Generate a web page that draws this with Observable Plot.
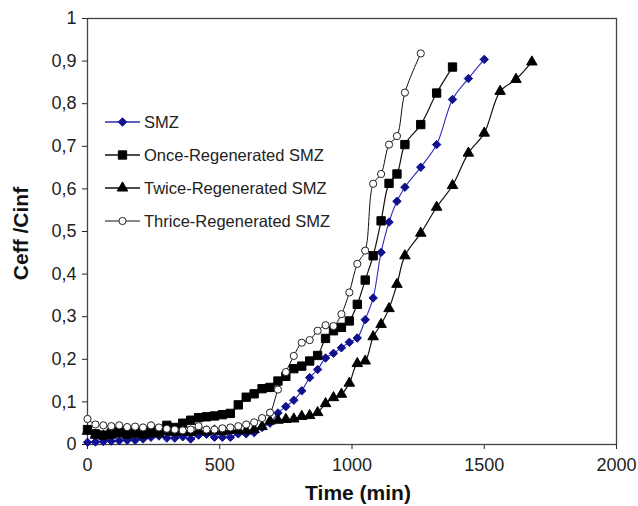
<!DOCTYPE html>
<html><head><meta charset="utf-8">
<script src="https://cdn.jsdelivr.net/npm/d3@7"></script>
<script src="https://cdn.jsdelivr.net/npm/@observablehq/plot@0.6"></script>
<style>
body{margin:0;background:#fff;}
#chart svg{font-family:"Liberation Sans",Arial,sans-serif;}
</style>
</head><body><div id="chart"></div>
<script>
// ---- data ----
const seriesNames = ["SMZ", "Once-Regenerated SMZ", "Twice-Regenerated SMZ", "Thrice-Regenerated SMZ"];

const smzTime  = [0,30,60,90,120,150,180,210,240,270,300,330,360,390,420,450,480,510,540,570,600,630,660,690,720,750,780,810,840,870,900,930,960,990,1020,1050,1080,1110,1140,1170,1200,1260,1320,1380,1440,1500];
const smzValue = [0.005,0.006,0.007,0.008,0.009,0.010,0.010,0.013,0.017,0.020,0.015,0.015,0.018,0.013,0.022,0.024,0.017,0.017,0.017,0.025,0.025,0.028,0.040,0.050,0.074,0.089,0.104,0.126,0.157,0.176,0.203,0.214,0.227,0.240,0.250,0.293,0.344,0.451,0.522,0.571,0.604,0.651,0.704,0.810,0.859,0.904];

const onceTime  = [0,30,60,90,120,150,180,210,240,270,300,330,360,390,420,450,480,510,540,570,600,630,660,690,720,750,780,810,840,870,900,930,960,990,1020,1050,1080,1110,1140,1170,1200,1260,1320,1380];
const onceValue = [0.035,0.025,0.022,0.027,0.030,0.025,0.028,0.032,0.030,0.035,0.045,0.040,0.050,0.057,0.063,0.065,0.067,0.070,0.073,0.093,0.111,0.119,0.131,0.134,0.149,0.160,0.178,0.184,0.196,0.209,0.249,0.267,0.275,0.290,0.329,0.386,0.443,0.525,0.613,0.635,0.704,0.751,0.825,0.886];

const twiceTime  = [0,30,60,90,120,150,180,210,240,270,300,330,360,390,420,450,480,510,540,570,600,630,660,690,720,750,780,810,840,870,900,930,960,990,1020,1050,1080,1110,1140,1170,1200,1260,1320,1380,1440,1500,1560,1620,1680];
const twiceValue = [0.031,0.022,0.020,0.022,0.025,0.022,0.025,0.022,0.025,0.025,0.030,0.028,0.030,0.028,0.032,0.030,0.032,0.030,0.033,0.033,0.032,0.035,0.042,0.055,0.057,0.059,0.060,0.066,0.068,0.075,0.096,0.110,0.118,0.144,0.190,0.196,0.253,0.282,0.319,0.376,0.443,0.496,0.557,0.608,0.684,0.731,0.829,0.857,0.898];

const thriceTime  = [0,30,60,90,120,150,180,210,240,270,300,330,360,390,420,450,480,510,540,570,600,630,660,690,720,750,780,810,840,870,900,930,960,990,1020,1050,1080,1110,1140,1170,1200,1260];
const thriceValue = [0.060,0.047,0.045,0.043,0.045,0.041,0.042,0.040,0.045,0.040,0.037,0.035,0.033,0.035,0.043,0.035,0.035,0.038,0.040,0.043,0.047,0.052,0.062,0.075,0.129,0.170,0.208,0.239,0.245,0.267,0.280,0.278,0.306,0.357,0.424,0.455,0.612,0.635,0.704,0.724,0.826,0.918];

const xTicks = [0,500,1000,1500,2000];
const xTickLabels = ["0","500","1000","1500","2000"];
const yTicks = [0,0.1,0.2,0.3,0.4,0.5,0.6,0.7,0.8,0.9,1];
const yTickLabels = ["0","0,1","0,2","0,3","0,4","0,5","0,6","0,7","0,8","0,9","1"];
const xLabel = "Time (min)";
const yLabel = "Ceff /Cinf";

// ---- build tables ----
const times = [smzTime, onceTime, twiceTime, thriceTime];
const values = [smzValue, onceValue, twiceValue, thriceValue];
const tables = seriesNames.map((name, i) => times[i].map((t, j) => ({series: name, time: t, value: values[i][j]})));

// styles per series
const styles = [
  {line: "#2b2bb8", lw: 1.1, symbol: "diamond2", r: 3.8, fill: "#10108f", stroke: "#10108f"},
  {line: "#111", lw: 1.2, symbol: "square", r: 4.7, fill: "#000", stroke: "#000"},
  {line: "#111", lw: 1.2, symbol: "triangle", r: 3.9, fill: "#000", stroke: "#000"},
  {line: "#111", lw: 1.0, symbol: "circle", r: 3.6, fill: "#fff", stroke: "#222"}
];
const symbolMap = {diamond2: d3.symbolDiamond2, square: d3.symbolSquare, triangle: d3.symbolTriangle, circle: d3.symbolCircle};

function legend(index, scales, vals, dimensions) {
  const g = d3.create("svg:g");
  const left = dimensions.marginLeft, top = dimensions.marginTop;
  seriesNames.forEach((name, i) => {
    const s = styles[i];
    const y = top + 104 + i * 33;
    const x1 = left + 18, x2 = left + 53;
    g.append("line").attr("x1", x1).attr("x2", x2).attr("y1", y).attr("y2", y)
      .attr("stroke", s.line).attr("stroke-width", s.lw + 0.2);
    g.append("path").attr("d", d3.symbol(symbolMap[s.symbol], s.r * s.r * Math.PI)())
      .attr("transform", `translate(${(x1 + x2) / 2},${y})`)
      .attr("fill", s.fill).attr("stroke", s.stroke).attr("stroke-width", 1);
    g.append("text").attr("x", x2 + 4).attr("y", y).attr("dy", "0.35em")
      .attr("text-anchor", "start").style("text-anchor", "start")
      .attr("font-size", 16.5).attr("fill", "#222").text(name);
  });
  return g.node();
}

const marks = [Plot.frame({stroke: "#444", strokeWidth: 1.3})];
tables.forEach((tbl, i) => {
  const s = styles[i];
  marks.push(Plot.line(tbl, {x: "time", y: "value", stroke: s.line, strokeWidth: s.lw, curve: "catmull-rom"}));
});
tables.forEach((tbl, i) => {
  const s = styles[i];
  marks.push(Plot.dot(tbl, {x: "time", y: "value", symbol: () => s.symbol, r: s.r, fill: s.fill, stroke: s.stroke, strokeWidth: 1}));
});
marks.push(Plot.text([xLabel], {frameAnchor: "bottom", text: d => d, dy: 49, dx: 6, fontSize: 21, fontWeight: "bold", textAnchor: "middle", lineAnchor: "middle", fill: "#111"}));
marks.push(Plot.text([yLabel], {frameAnchor: "left", text: d => d, dx: -66, dy: 2, rotate: -90, fontSize: 21, fontWeight: "bold", textAnchor: "middle", lineAnchor: "middle", fill: "#111"}));
marks.push(legend);

const chart = Plot.plot({
  width: 638, height: 506,
  marginLeft: 87, marginRight: 22, marginTop: 18, marginBottom: 62,
  style: {fontFamily: "Liberation Sans, Arial, sans-serif", fontSize: "18px", color: "#222", background: "white"},
  symbol: {type: "identity"},
  x: {domain: [0, 2000], ticks: xTicks, tickFormat: d => xTickLabels[xTicks.indexOf(d)], tickSize: 5, tickPadding: 9, label: null},
  y: {domain: [0, 1], ticks: yTicks, tickFormat: d => yTickLabels[yTicks.findIndex(v => Math.abs(v - d) < 1e-9)], tickSize: 5, tickPadding: 6, label: null},
  marks
});
document.getElementById("chart").append(chart);
</script>
</body></html>
